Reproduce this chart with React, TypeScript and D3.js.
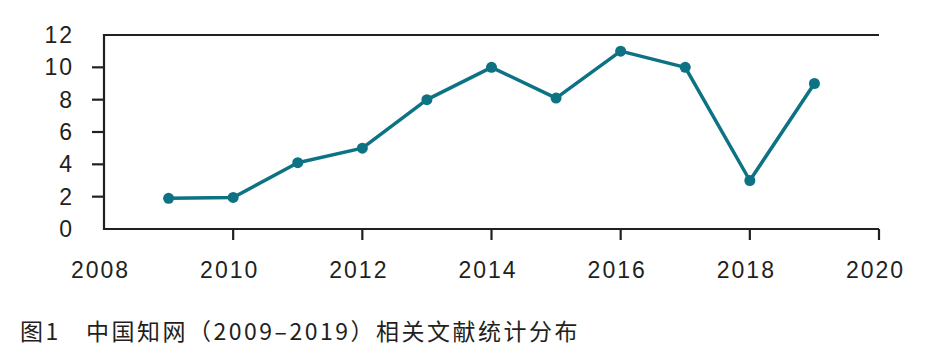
import { useEffect, useRef } from "react";
import * as d3 from "d3";

const years = [2009, 2010, 2011, 2012, 2013, 2014, 2015, 2016, 2017, 2018, 2019];
const counts = [1.9, 1.95, 4.1, 5, 8, 10, 8.1, 11, 10, 3, 9];
const xTicks = [2008, 2010, 2012, 2014, 2016, 2018, 2020];
const yTicks = [0, 2, 4, 6, 8, 10, 12];
const caption = ["图1", "中国知网（2009–2019）相关文献统计分布"];

const width = 936;
const height = 355;

export default function App() {
  const svgRef = useRef<SVGSVGElement>(null);

  useEffect(() => {
    document.body.style.margin = "0";
    const svg = d3.select(svgRef.current);
    svg.selectAll("*").remove();

    const x = d3.scaleLinear().domain([2008, 2020]).range([104, 879]);
    const y = d3.scaleLinear().domain([0, 12]).range([229, 35]);
    const ink = "#231f20";
    const teal = "#0d7283";
    const tickFont = "'Liberation Sans', Arial, sans-serif";

    // frame: top, left, bottom
    svg.append("path")
      .attr("d", `M${x(2020)},${y(12)}H${x(2008)}V${y(0)}H${x(2020)}`)
      .attr("fill", "none")
      .attr("stroke", ink)
      .attr("stroke-width", 2.2);

    const yAxis = svg.append("g").attr("transform", `translate(${x(2008)},0)`)
      .call(d3.axisLeft(y).tickValues(yTicks).tickSize(0).tickPadding(30));
    yAxis.select(".domain").remove();
    yAxis.selectAll("text")
      .style("font-family", tickFont)
      .style("font-size", "23px")
      .style("letter-spacing", "2px")
      .attr("fill", ink);
    svg.append("g").selectAll("line")
      .data(yTicks.filter(t => t > 0 && t < 12))
      .join("line")
      .attr("x1", x(2008) - 12).attr("x2", x(2008))
      .attr("y1", d => y(d)).attr("y2", d => y(d))
      .attr("stroke", ink).attr("stroke-width", 2.2);

    const xAxis = svg.append("g").attr("transform", `translate(0,${y(0)})`)
      .call(d3.axisBottom(x).tickValues(xTicks).tickFormat(d3.format("d")).tickSize(0).tickPadding(33));
    xAxis.select(".domain").remove();
    xAxis.selectAll("text")
      .style("font-family", tickFont)
      .style("font-size", "23px")
      .style("letter-spacing", "2px")
      .attr("dx", -4)
      .attr("fill", ink);
    svg.append("g").selectAll("line")
      .data(xTicks.slice(1))
      .join("line")
      .attr("x1", d => x(d)).attr("x2", d => x(d))
      .attr("y1", y(0)).attr("y2", y(0) + 11)
      .attr("stroke", ink).attr("stroke-width", 2.2);

    const pts = years.map((yr, i) => [yr, counts[i]] as [number, number]);
    const line = d3.line<[number, number]>().x(d => x(d[0])).y(d => y(d[1]));
    svg.append("path")
      .datum(pts)
      .attr("d", line)
      .attr("fill", "none")
      .attr("stroke", teal)
      .attr("stroke-width", 3.5)
      .attr("stroke-linejoin", "round");
    svg.append("g").selectAll("circle")
      .data(pts)
      .join("circle")
      .attr("cx", d => x(d[0]))
      .attr("cy", d => y(d[1]))
      .attr("r", 5.5)
      .attr("fill", teal);

    const cap = svg.append("text")
      .attr("y", 340)
      .attr("fill", ink)
      .style("font-family", "'Noto Sans CJK SC', sans-serif")
      .style("font-size", "23px")
      .style("letter-spacing", "2.5px");
    cap.append("tspan").attr("x", 20).text(caption[0]);
    cap.append("tspan").attr("x", 86).text(caption[1]);
  }, []);

  return <svg ref={svgRef} width={width} height={height} style={{ display: "block", background: "#fff" }} />;
}
